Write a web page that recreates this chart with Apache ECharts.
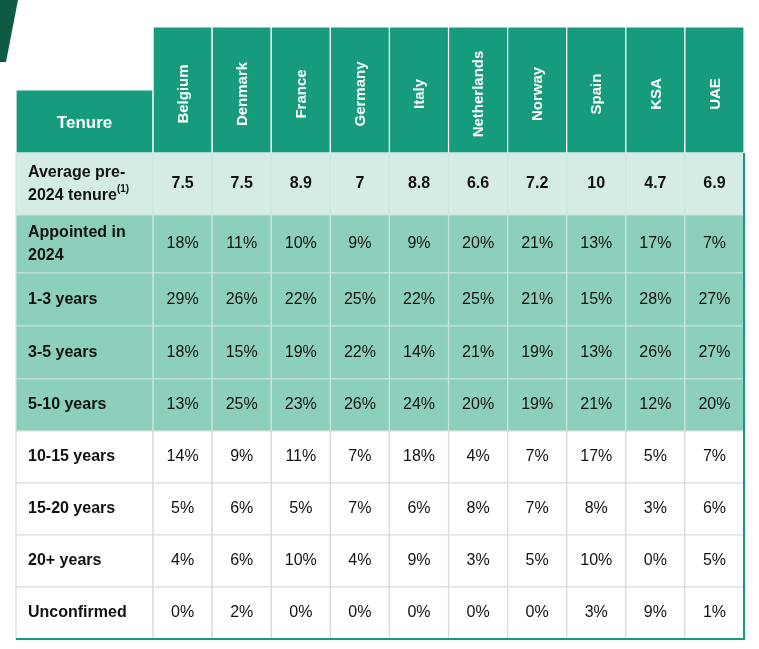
<!DOCTYPE html>
<html><head><meta charset="utf-8">
<script src="https://cdn.jsdelivr.net/npm/echarts@6/dist/echarts.min.js"></script>
<style>html,body{margin:0;padding:0;background:#fff}#main{width:759px;height:649px}</style>
</head><body><div id="main"></div>
<script>
var countries = ['Belgium','Denmark','France','Germany','Italy','Netherlands','Norway','Spain','KSA','UAE'];
var rowLabels = ['Average pre-\n2024 tenure{s|(1)}','Appointed in\n2024','1-3 years','3-5 years','5-10 years','10-15 years','15-20 years','20+ years','Unconfirmed'];
var avgTenure = ['7.5','7.5','8.9','7','8.8','6.6','7.2','10','4.7','6.9'];
var appointed2024 = [18,11,10,9,9,20,21,13,17,7];
var y1to3 = [29,26,22,25,22,25,21,15,28,27];
var y3to5 = [18,15,19,22,14,21,19,13,26,27];
var y5to10 = [13,25,23,26,24,20,19,21,12,20];
var y10to15 = [14,9,11,7,18,4,7,17,5,7];
var y15to20 = [5,6,5,7,6,8,7,8,3,6];
var y20plus = [4,6,10,4,9,3,5,10,0,5];
var unconfirmed = [0,2,0,0,0,0,0,3,9,1];

var pctRows = [appointed2024,y1to3,y3to5,y5to10,y10to15,y15to20,y20plus,unconfirmed];
// row boundaries in pixel-like units on the y axis
var rowEdges = [63,126,188,246,299,352,404,456,508,560,612];
var labelW = -2.32;
var fills = ['#d4ece5','#8ccfbd','#8ccfbd','#8ccfbd','#8ccfbd','#fff','#fff','#fff','#fff'];

var cells = [];
// header
cells.push([labelW,0,rowEdges[0],rowEdges[1],'Tenure','head']);
countries.forEach(function(c,i){ cells.push([i,i+1,0,rowEdges[1],c,'country']); });
for (var r=0;r<9;r++){
  var t=rowEdges[r+1], b=rowEdges[r+2];
  cells.push([labelW,0,t,b,rowLabels[r],'label',r]);
  for (var i=0;i<10;i++){
    var v = r===0 ? avgTenure[i] : pctRows[r-1][i]+'%';
    cells.push([i,i+1,t,b,v,r===0?'avg':'val',r]);
  }
}

function renderItem(params, api){
  var d = cells[params.dataIndex];
  var p0 = api.coord([d[0], d[2]]), p1 = api.coord([d[1], d[3]]);
  var x=p0[0], y=p0[1], w=p1[0]-p0[0], h=p1[1]-p0[1];
  var kind=d[5];
  var head = kind==='head'||kind==='country';
  var fill = head ? '#169c7c' : fills[d[6]];
  var stroke = head ? '#ffffff' : (d[6]<5 ? '#c9e6de' : '#d9d9d9');
  var children=[{type:'rect',shape:{x:x,y:y,width:w,height:h},style:{fill:fill,stroke:stroke,lineWidth:1.2}}];
  var font='Liberation Sans, Arial, sans-serif';
  if (kind==='country'){
    children.push({type:'text',x:x+w/2+1,y:y+h/2+4,rotation:Math.PI/2,style:{text:d[4],fill:'#fff',font:'bold 15px '+font,align:'center',verticalAlign:'middle'}});
  } else if (kind==='head'){
    children.push({type:'text',x:x+w/2,y:y+h/2+2,style:{text:d[4],fill:'#fff',font:'bold 17px '+font,align:'center',verticalAlign:'middle'}});
  } else if (kind==='label'){
    children.push({type:'text',x:x+12,y:y+h/2,style:{text:d[4],fill:'#111',font:'bold 16px '+font,align:'left',verticalAlign:'middle',lineHeight:23,
      rich:{s:{font:'bold 10px '+font,fill:'#111',verticalAlign:'top',padding:[0,0,6,0]}}}});
  } else {
    children.push({type:'text',x:x+w/2,y:y+h/2,style:{text:d[4],fill:'#111',font:(kind==='avg'?'bold ':'')+'16px '+font,align:'center',verticalAlign:'middle'}});
  }
  return {type:'group',children:children};
}

var chart = echarts.init(document.getElementById('main'));
chart.setOption({
  animation:false,
  graphic:[{type:'polygon',shape:{points:[[0,0],[18,0],[6,62],[0,62]]},style:{fill:'#0e5a45'}}],
  grid:{left:16,right:15,top:27,bottom:10},
  xAxis:{type:'value',min:labelW,max:10,show:false},
  yAxis:{type:'value',min:0,max:612,inverse:true,show:false},
  series:[{type:'custom',renderItem:renderItem,data:cells.map(function(c,i){return [c[0],c[2],i];}),clip:false},
    {type:'custom',silent:true,data:[[10,0]],renderItem:function(p,api){
      var a=api.coord([10,rowEdges[1]]),b=api.coord([10,612]),c=api.coord([labelW,612]);
      return {type:'polyline',shape:{points:[a,b,c]},style:{stroke:'#169c7c',lineWidth:2,fill:null}};
    }}]
});
</script></body></html>
